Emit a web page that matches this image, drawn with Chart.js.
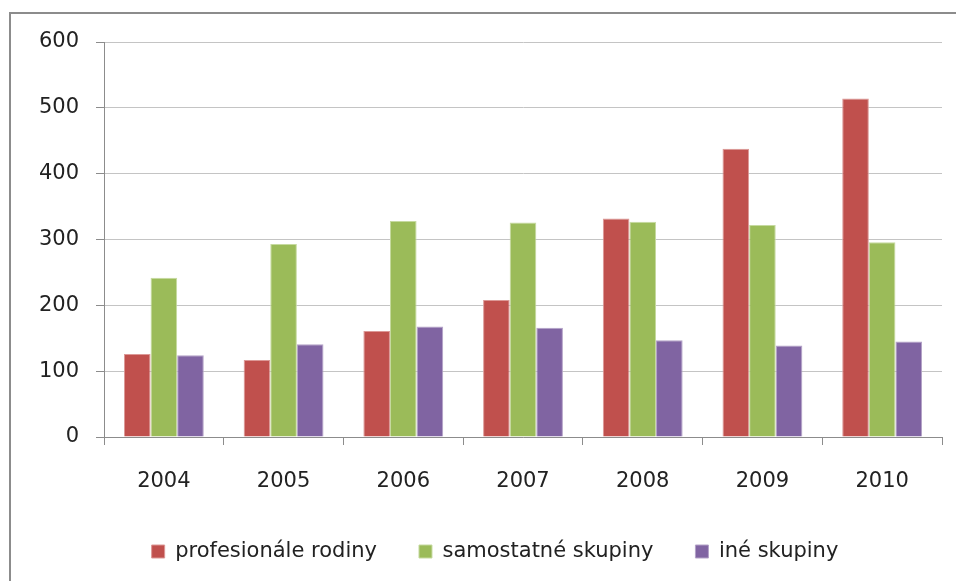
<!DOCTYPE html>
<html>
<head>
<meta charset="utf-8">
<script src="https://cdn.jsdelivr.net/npm/chart.js@4/dist/chart.umd.min.js"></script>
<style>
  body { margin: 0; background: #fff; }
  #wrap { position: relative; width: 956px; height: 581px; overflow: hidden; }
  #frame {
    position: absolute; left: 9px; top: 12px; width: 960px; height: 600px;
    border-top: 2px solid #8c8c8c; border-left: 2px solid #8c8c8c;
    pointer-events: none;
  }
</style>
</head>
<body>
<div id="wrap">
  <canvas id="chart" width="956" height="581"></canvas>
  <div id="frame"></div>
</div>
<script>
var years = ['2004', '2005', '2006', '2007', '2008', '2009', '2010']
var rodiny = [126, 117, 161, 208, 332, 438, 514]
var samostatne = [242, 293, 328, 326, 327, 322, 296]
var ine = [124, 141, 168, 166, 147, 139, 145]
var yTicks = [0, 100, 200, 300, 400, 500, 600]

var fontFamily = '"DejaVu Sans", sans-serif'
var textColor = '#222'
var gridColor = '#c4c4c4'
var axisColor = '#8c8c8c'

var data = {
  labels: years,
  datasets: [
    {
      label: 'profesionále rodiny',
      data: rodiny,
      backgroundColor: '#c0504d',
      borderColor: '#dc9896',
      borderWidth: 1
    },
    {
      label: 'samostatné skupiny',
      data: samostatne,
      backgroundColor: '#9bbb59',
      borderColor: '#c6daa0',
      borderWidth: 1
    },
    {
      label: 'iné skupiny',
      data: ine,
      backgroundColor: '#8064a2',
      borderColor: '#b3a2c7',
      borderWidth: 1
    }
  ]
}

// the legend sits a bit right of centre in the original
var legendShift = {
  id: 'legendShift',
  afterLayout: function (chart) {
    chart.legend.left += 7
    chart.legend.right += 7
  }
}

// y scale must start left of the tick labels, otherwise they get clipped
var options = {
  responsive: false,
  animation: false,
  events: [],
  categoryPercentage: 0.667,
  barPercentage: 1,
  layout: {
    padding: { top: 42, left: 34, right: 14, bottom: 9 }
  },
  plugins: {
    tooltip: { enabled: false },
    legend: {
      position: 'bottom',
      labels: {
        boxWidth: 13,
        boxHeight: 13,
        padding: 42,
        color: textColor,
        font: { family: fontFamily, size: 21 }
      }
    }
  },
  scales: {
    x: {
      offset: true,
      afterFit: function (s) { s.height = 62 },
      grid: {
        offset: true,
        drawOnChartArea: false,
        drawTicks: true,
        tickLength: 8,
        color: axisColor
      },
      border: { display: true, color: axisColor, width: 1 },
      ticks: {
        color: textColor,
        padding: 24,
        font: { family: fontFamily, size: 21 }
      }
    },
    y: {
      min: 0,
      max: 600,
      afterFit: function (s) { s.width = 70 },
      afterBuildTicks: function (s) {
        s.ticks = yTicks.map(function (v) { return { value: v } })
      },
      grid: {
        color: gridColor,
        tickColor: axisColor,
        tickLength: 8,
        drawTicks: true
      },
      border: { display: true, color: axisColor, width: 1 },
      ticks: {
        color: textColor,
        padding: 17,
        font: { family: fontFamily, size: 21 }
      }
    }
  }
}

var ctx = document.getElementById('chart').getContext('2d')
var myChart = new Chart(ctx, {
  type: 'bar',
  data: data,
  options: options,
  plugins: [legendShift]
})
</script>
</body>
</html>
